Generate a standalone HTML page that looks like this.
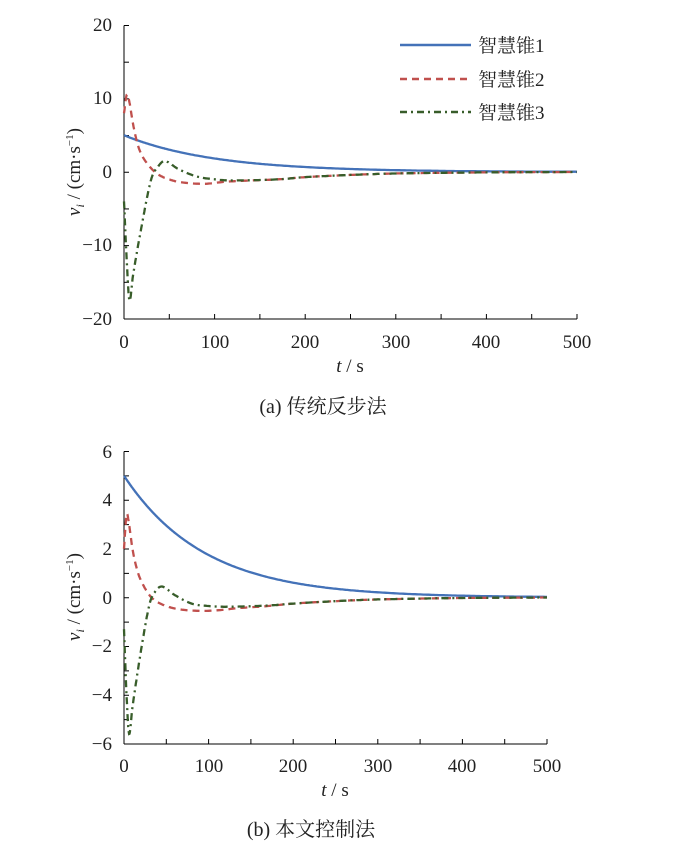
<!DOCTYPE html>
<html><head><meta charset="utf-8"><style>
html,body{margin:0;padding:0;background:#fff;}
svg{display:block;}
text{font-family:"Liberation Serif","Noto Serif CJK SC",serif;fill:#222;}
</style></head><body>
<svg id="s" width="679" height="846" viewBox="0 0 679 846" xmlns="http://www.w3.org/2000/svg">
<g id="g"></g>
<g font-size="19">
<text x="112" y="31" text-anchor="end">20</text>
<text x="112" y="104" text-anchor="end">10</text>
<text x="112" y="178" text-anchor="end">0</text>
<text x="112" y="251" text-anchor="end">−10</text>
<text x="112" y="325" text-anchor="end">−20</text>
<text x="124" y="348" text-anchor="middle">0</text>
<text x="215" y="348" text-anchor="middle">100</text>
<text x="305" y="348" text-anchor="middle">200</text>
<text x="396" y="348" text-anchor="middle">300</text>
<text x="486" y="348" text-anchor="middle">400</text>
<text x="577" y="348" text-anchor="middle">500</text>
<text x="350" y="372" text-anchor="middle"><tspan font-style="italic">t</tspan> / s</text>
<text x="323" y="413" text-anchor="middle" font-size="20">(a)  传统反步法</text>
<text transform="translate(80,172) rotate(-90)" text-anchor="middle"><tspan font-style="italic">v</tspan><tspan font-style="italic" font-size="12" dy="4">i</tspan><tspan dy="-4"> / (cm·s</tspan><tspan font-size="11" dy="-7">−1</tspan><tspan dy="7">)</tspan></text>
</g>
<g font-size="19">
<text x="112" y="458" text-anchor="end">6</text>
<text x="112" y="506" text-anchor="end">4</text>
<text x="112" y="555" text-anchor="end">2</text>
<text x="112" y="604" text-anchor="end">0</text>
<text x="112" y="652" text-anchor="end">−2</text>
<text x="112" y="701" text-anchor="end">−4</text>
<text x="112" y="750" text-anchor="end">−6</text>
<text x="124" y="772" text-anchor="middle">0</text>
<text x="209" y="772" text-anchor="middle">100</text>
<text x="293" y="772" text-anchor="middle">200</text>
<text x="378" y="772" text-anchor="middle">300</text>
<text x="462" y="772" text-anchor="middle">400</text>
<text x="547" y="772" text-anchor="middle">500</text>
<text x="335" y="796" text-anchor="middle"><tspan font-style="italic">t</tspan> / s</text>
<text x="311" y="836" text-anchor="middle" font-size="20">(b)  本文控制法</text>
<text transform="translate(80,597) rotate(-90)" text-anchor="middle"><tspan font-style="italic">v</tspan><tspan font-style="italic" font-size="12" dy="4">i</tspan><tspan dy="-4"> / (cm·s</tspan><tspan font-size="11" dy="-7">−1</tspan><tspan dy="7">)</tspan></text>
</g>
<line x1="400" y1="45" x2="471" y2="45" stroke="#4472b8" stroke-width="2.5"/>
<line x1="400" y1="79" x2="471" y2="79" stroke="#c0504d" stroke-width="2.5" stroke-dasharray="7,5"/>
<line x1="400" y1="112" x2="471" y2="112" stroke="#385d2a" stroke-width="2.5" stroke-dasharray="7,4,2,4"/>
<g font-size="19"><text x="478" y="52">智慧锥1</text><text x="478" y="86">智慧锥2</text><text x="478" y="119">智慧锥3</text></g>
</svg>
<script>
var g=document.getElementById('g'),NS='http://www.w3.org/2000/svg';
function el(n,a){var e=document.createElementNS(NS,n);for(var k in a)e.setAttribute(k,a[k]);g.appendChild(e);return e;}
function interp(p,t){for(var i=1;i<p.length;i++){if(t<=p[i][0]){var a=p[i-1],b=p[i],f=(t-a[0])/(b[0]-a[0]);
var c=p[Math.max(0,i-2)],d=p[Math.min(p.length-1,i+1)];
var m1=(b[1]-c[1])/(b[0]-c[0]||1)*(b[0]-a[0]),m2=(d[1]-a[1])/(d[0]-a[0]||1)*(b[0]-a[0]);
var h1=2*f*f*f-3*f*f+1,h2=f*f*f-2*f*f+f,h3=-2*f*f*f+3*f*f,h4=f*f*f-f*f;
return h1*a[1]+h2*m1+h3*b[1]+h4*m2;}}return p[p.length-1][1];}
function axes(x0,x1,yT,yB,vmax,vmin,minor){
 el('line',{x1:x0,y1:yT,x2:x0,y2:yB,stroke:'#000','stroke-width':1});
 el('line',{x1:x0,y1:yB,x2:x1,y2:yB,stroke:'#000','stroke-width':1});
 for(var v=vmin;v<=vmax+1e-9;v+=minor){var y=yB-(v-vmin)/(vmax-vmin)*(yB-yT);el('line',{x1:x0,y1:y,x2:x0+5,y2:y,stroke:'#000','stroke-width':1});}
 for(var t=0;t<=500;t+=50){var x=x0+t/500*(x1-x0);el('line',{x1:x,y1:yB,x2:x,y2:yB-5,stroke:'#000','stroke-width':1});}
}
function curve(pts,x0,x1,y0,sc,style){var d='';for(var t=0;t<=500;t+=(t<60?0.5:2)){var v=typeof pts=='function'?pts(t):interp(pts,t);
 var x=x0+t/500*(x1-x0),y=y0-v*sc;d+=(d?'L':'M')+x.toFixed(1)+','+y.toFixed(1);}
 var a={d:d,fill:'none','stroke-width':2.3};for(var k in style)a[k]=style[k];el('path',a);}
axes(124,577,25.5,319,20,-20,5);
axes(124,547,451.5,744,6,-6,1);
var B={stroke:'#4472b8'},R={stroke:'#c0504d','stroke-dasharray':'7,5'},G={stroke:'#385d2a','stroke-dasharray':'7,4,2,4'};
var tail=[[250,-0.4],[300,-0.2],[400,-0.05],[500,0]];
curve(function(t){return 5*Math.exp(-t/100);},124,577,172,7.35,B);
curve([[0,8],[3,10.5],[6,9.5],[10,6.5],[15,3.8],[20,2.2],[30,0.5],[40,-0.5],[55,-1.2],[70,-1.5],[90,-1.6],[110,-1.35],[130,-1.2],[170,-1],[200,-0.7]].concat(tail),124,577,172,7.35,R);
curve([[0,-4],[3,-12],[6,-17.5],[10,-14],[20,-7],[30,-1],[38,0.8],[45,1.5],[60,0.4],[80,-0.6],[100,-1],[120,-1.15],[170,-1],[200,-0.7]].concat(tail),124,577,172,7.35,G);
var tail2=[[250,-0.15],[300,-0.08],[400,-0.02],[500,0]];
curve(function(t){return 5*Math.exp(-t/95);},124,547,597.5,24.35,B);
curve([[0,2],[3,3.4],[6,3],[10,2],[15,1.2],[20,0.7],[30,0.1],[40,-0.2],[60,-0.45],[90,-0.55],[120,-0.5],[130,-0.45],[170,-0.35],[200,-0.25]].concat(tail2),124,547,597.5,24.35,R);
curve([[0,-1.3],[3,-4],[6,-5.6],[10,-4.5],[20,-2.2],[30,-0.3],[37,0.25],[45,0.45],[60,0.1],[80,-0.25],[100,-0.35],[120,-0.38],[170,-0.33],[200,-0.25]].concat(tail2),124,547,597.5,24.35,G);
</script>
</body></html>
